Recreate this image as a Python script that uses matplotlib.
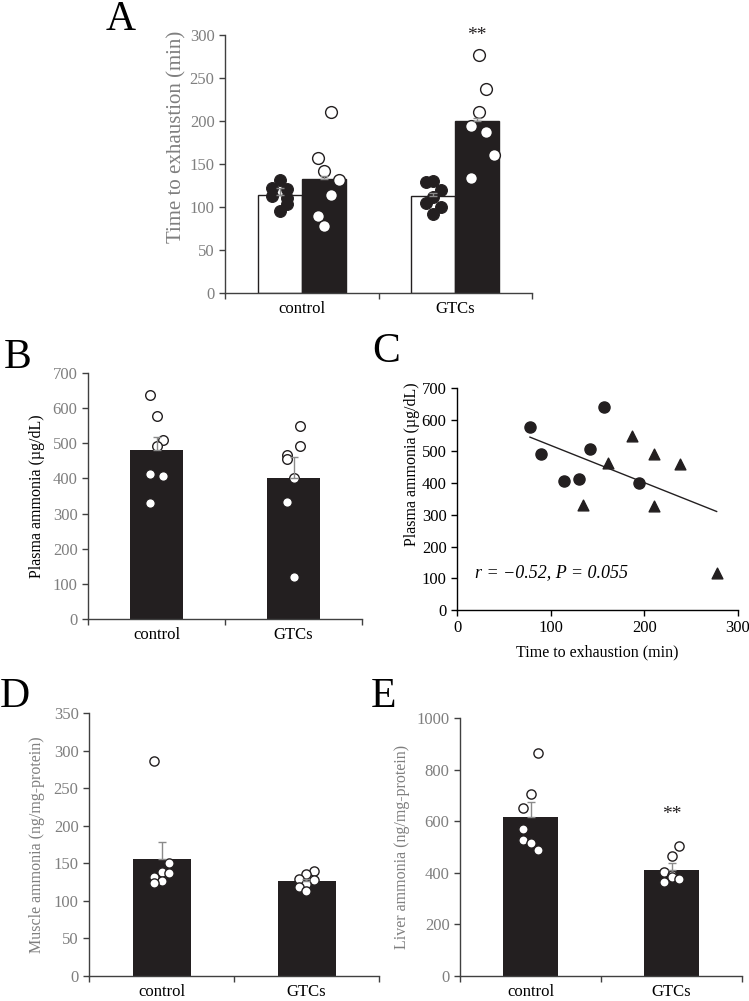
import numpy as np
import matplotlib
matplotlib.use('Agg')
import matplotlib.pyplot as plt

plt.rcParams['font.family'] = ['Liberation Serif', 'DejaVu Serif']
plt.rcParams['font.size'] = 12

# ---------------- data ----------------
groups = ['control', 'GTCs']

# Panel A: time to exhaustion (min); white bars / black bars
a_white_mean = [113.7, 112.5]
a_white_err = [8.7, 4.0]
a_black_mean = [132.0, 200.3]
a_black_err = [3.5, 3.0]
a_white_ctrl = [131, 122, 121, 113, 110, 103, 95]
a_white_gtc = [130, 128.5, 119.5, 112, 105, 100, 92]
a_black_ctrl = [210, 157, 142, 131, 114.5, 89, 78]
a_black_gtc = [276.7, 237.5, 210.3, 194, 186.7, 160.7, 134.3]

# Panel B: plasma ammonia (ug/dL)
b_mean = [480.0, 401.8]
b_err = [38.0, 59.0]
b_ctrl = [638, 577, 508.6, 491.5, 412, 407, 329]
b_gtc = [549, 491, 466, 456, 402, 334, 119]

# Panel C: correlation
c_ctrl_time = [77.9, 89.3, 113.9, 130.6, 142, 157, 194.3]
c_ctrl_nh3 = [578, 491.6, 407, 412.6, 508, 641, 401]
c_gtc_time = [134.2, 160.9, 187.2, 210.7, 210, 237.7, 277.2]
c_gtc_nh3 = [332.6, 463, 549, 492.6, 328, 459, 117.9]
c_stats = 'r = \u22120.52, P = 0.055'

# Panel D: muscle ammonia (ng/mg-protein)
d_mean = [155.4, 126.1]
d_err = [23.5, 3.0]
d_ctrl = [285.5, 151, 139, 137, 131.5, 126, 124]
d_gtc = [140, 135.5, 129, 128, 122, 119, 113]

# Panel E: liver ammonia (ng/mg-protein)
e_mean = [615.8, 412.7]
e_err = [58.0, 24.0]
e_ctrl = [864, 707, 650, 570, 528, 515, 490]
e_gtc = [504, 467, 405, 390, 383, 375, 365]

# ---------------- layout (dot jitter slots) ----------------
a_white_ctrl_slot = [0, -1, 1, -1, 1, 1, 0]
a_white_gtc_slot = [0, -1, 1, 0, -1, 1, 0]
a_black_ctrl_slot = [1, -0.8, 0, 2, 1, -0.8, 0]
a_black_gtc_slot = [0.2, 1.2, 0.2, -0.85, 1.2, 2.2, -0.85]
b_ctrl_slot = [-1, 0, 1, 0, -1, 1, -1]
b_gtc_slot = [1, 1, -1, -1, 0, -1, 0]
d_ctrl_slot = [-1, 1, 0, 1, -1, 0, -1]
d_gtc_slot = [1, 0, -1, 1, 0, -1, 0]
e_ctrl_slot = [1, 0, -1, -1, -1, 0, 1]
e_gtc_slot = [1, 0, -1, 0, 0, 1, -1]

BLACK = '#231f20'
GRAY = '#7f7f7f'
SPINE = '#404040'
ERR = '#8a8a8a'

W, H = 749, 1001
fig = plt.figure(figsize=(W / 100, H / 100), dpi=100)


def add_axes_px(x0, x1, y0, y1):
    return fig.add_axes([x0 / W, (H - y1) / H, (x1 - x0) / W, (y1 - y0) / H])


def style_axes(ax, color=SPINE, labelcolor=GRAY):
    for s in ['top', 'right']:
        ax.spines[s].set_visible(False)
    for s in ['left', 'bottom']:
        ax.spines[s].set_color(color)
        ax.spines[s].set_linewidth(1.0)
    ax.tick_params(axis='both', direction='out', length=4, width=1.0,
                   colors=color, labelcolor=labelcolor, labelsize=12)


def category_axis(ax):
    ax.set_xlim(0, 2)
    ax.set_xticks([0, 1, 2])
    ax.set_xticklabels([])
    ax.set_xticks([0.5, 1.5], minor=True)
    ax.set_xticklabels(groups, minor=True)
    ax.tick_params(axis='x', which='minor', length=0, pad=6)


def dots(ax, xc, vals, slots, step, s, filled):
    xs = [xc + k * step for k in slots]
    if filled:
        ax.scatter(xs, vals, s=s, color=BLACK, edgecolors=BLACK, linewidths=0.8,
                   zorder=3, clip_on=False)
    else:
        ax.scatter(xs, vals, s=s, facecolor='white', edgecolors=BLACK,
                   linewidths=1.0, zorder=3, clip_on=False)


def errbars(ax, xs, means, errs):
    ax.errorbar(xs, means, yerr=[[0] * len(errs), errs], fmt='none',
                ecolor=ERR, elinewidth=1.0, capsize=3, capthick=1.0, zorder=4)


# ---------------- Panel A ----------------
axA = add_axes_px(225, 532, 35, 293)
style_axes(axA)
category_axis(axA)
bw = 0.287
xw = [0.5 - bw / 2, 1.5 - bw / 2]
xb = [0.5 + bw / 2, 1.5 + bw / 2]
axA.bar(xw, a_white_mean, width=bw, color='white', edgecolor=BLACK, linewidth=1.0, zorder=2)
axA.bar(xb, a_black_mean, width=bw, color=BLACK, edgecolor=BLACK, linewidth=1.0, zorder=2)
stepA = 0.05
dots(axA, xw[0], a_white_ctrl, a_white_ctrl_slot, stepA, 72, True)
dots(axA, xw[1], a_white_gtc, a_white_gtc_slot, stepA, 72, True)
dots(axA, xb[0], a_black_ctrl, a_black_ctrl_slot, stepA, 72, False)
dots(axA, xb[1], a_black_gtc, a_black_gtc_slot, stepA, 72, False)
errbars(axA, xw, a_white_mean, a_white_err)
errbars(axA, xb, a_black_mean, a_black_err)
axA.set_ylim(0, 300)
axA.set_yticks(range(0, 301, 50))
axA.set_ylabel('Time to exhaustion (min)', color=GRAY, fontsize=15, va='center')
axA.yaxis.set_label_coords(-48 / 307, 0.605)
axA.text(xb[1], 300, '**', ha='center', va='center', fontsize=14, color=BLACK, clip_on=False)

# ---------------- Panel B ----------------
axB = add_axes_px(88, 362, 373, 619)
style_axes(axB)
category_axis(axB)
bwB = 0.394
axB.bar([0.5, 1.5], b_mean, width=bwB, color=BLACK, zorder=2)
stepB = 0.049
dots(axB, 0.5, b_ctrl, b_ctrl_slot, stepB, 48, False)
dots(axB, 1.5, b_gtc, b_gtc_slot, stepB, 48, False)
errbars(axB, [0.5, 1.5], b_mean, b_err)
axB.set_ylim(0, 700)
axB.set_yticks(range(0, 701, 100))
axB.set_ylabel('Plasma ammonia (\u00b5g/dL)', color='black', fontsize=11.5, va='center')
axB.yaxis.set_label_coords(-51 / 274, 0.5)

# ---------------- Panel C ----------------
axC = add_axes_px(457, 738, 388, 610)
style_axes(axC, color='black', labelcolor='black')
axC.scatter(c_ctrl_time, c_ctrl_nh3, s=64, marker='o', color=BLACK, zorder=3)
axC.scatter(c_gtc_time, c_gtc_nh3, s=60, marker='^', color=BLACK, zorder=3)
all_x = np.array(c_ctrl_time + c_gtc_time)
all_y = np.array(c_ctrl_nh3 + c_gtc_nh3)
slope, icpt = np.polyfit(all_x, all_y, 1)
lx = np.array([all_x.min(), all_x.max()])
axC.plot(lx, slope * lx + icpt, color=BLACK, linewidth=1.0, zorder=2)
axC.set_xlim(0, 300)
axC.set_ylim(0, 700)
axC.set_xticks(range(0, 301, 100))
axC.set_yticks(range(0, 701, 100))
axC.set_xlabel('Time to exhaustion (min)', fontsize=11.5, labelpad=6)
axC.set_ylabel('Plasma ammonia (\u00b5g/dL)', fontsize=11.5, va='center')
axC.yaxis.set_label_coords(-45 / 281, 0.655)
axC.text(19, 117, c_stats, ha='left', va='center', fontsize=13, style='italic')

# ---------------- Panel D ----------------
axD = add_axes_px(89, 379, 713, 976)
style_axes(axD)
category_axis(axD)
bwD = 0.40
axD.bar([0.5, 1.5], d_mean, width=bwD, color=BLACK, zorder=2)
stepD = 0.053
dots(axD, 0.5, d_ctrl, d_ctrl_slot, stepD, 44, False)
dots(axD, 1.5, d_gtc, d_gtc_slot, stepD, 44, False)
errbars(axD, [0.5, 1.5], d_mean, d_err)
axD.set_ylim(0, 350)
axD.set_yticks(range(0, 351, 50))
axD.set_ylabel('Muscle ammonia (ng/mg-protein)', color=GRAY, fontsize=11.5, va='center')
axD.yaxis.set_label_coords(-52 / 290, 0.5)

# ---------------- Panel E ----------------
axE = add_axes_px(460, 742, 718, 976)
style_axes(axE)
category_axis(axE)
bwE = 0.397
axE.bar([0.5, 1.5], e_mean, width=bwE, color=BLACK, zorder=2)
stepE = 0.053
dots(axE, 0.5, e_ctrl, e_ctrl_slot, stepE, 44, False)
dots(axE, 1.5, e_gtc, e_gtc_slot, stepE, 44, False)
errbars(axE, [0.5, 1.5], e_mean, e_err)
axE.set_ylim(0, 1000)
axE.set_yticks(range(0, 1001, 200))
axE.set_ylabel('Liver ammonia (ng/mg-protein)', color=GRAY, fontsize=11.5, va='center')
axE.yaxis.set_label_coords(-58 / 282, 0.5)
axE.text(1.5, 625, '**', ha='center', va='center', fontsize=14, color=BLACK)

# ---------------- panel letters ----------------
for lab, x, y in [('A', 106, 30), ('B', 4, 368), ('C', 372, 362), ('D', 0, 707), ('E', 371, 707)]:
    fig.text(x / W, 1 - y / H, lab, fontsize=30, ha='left', va='baseline', color='black')

fig.savefig('out.png', dpi=100)
